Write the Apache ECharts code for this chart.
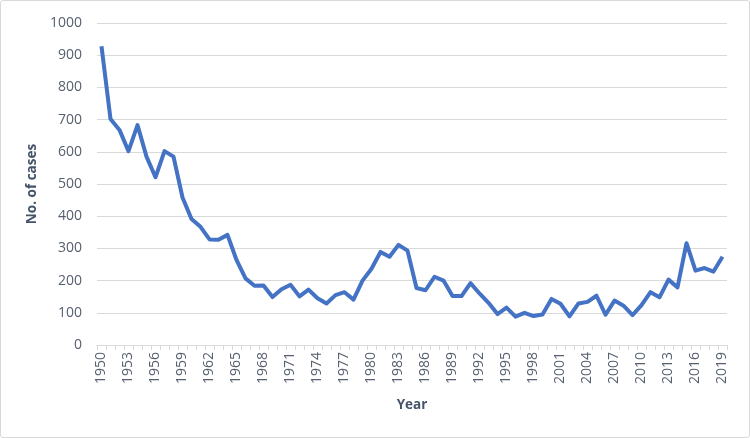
<!doctype html>
<html lang="en">
<head>
    <meta charset="UTF-8">
    <title>No. of cases by year</title>
    <script src="https://cdn.jsdelivr.net/npm/echarts@6/dist/echarts.min.js"></script>
    <style>
        html, body {
            margin: 0;
            padding: 0;
            background: #fff;
        }
        .chart {
            width: 750px;
            height: 438px;
            box-sizing: border-box;
            border: 1px solid #D9D9D9;
            border-radius: 3px;
        }
    </style>
</head>
<body>
<div id="chart" class="chart"></div>
<script>
    // years 1950 - 2019
    const years = [];
    for (let y = 1950; y <= 2019; y++) {
        years.push(String(y));
    }

    // values
    const cases = [
        928, 702, 668, 602, 683, 585, 521, 602, 585, 458,
        391, 367, 328, 327, 342, 264, 207, 184, 185, 149,
        173, 187, 151, 172, 145, 129, 155, 164, 141, 200,
        237, 289, 274, 311, 293, 177, 170, 212, 200, 152,
        152, 192, 160, 131, 96, 116, 88, 100, 90, 95,
        143, 128, 89, 129, 134, 153, 94, 138, 122, 93,
        124, 164, 148, 203, 179, 316, 231, 239, 228, 274
    ];

    const yTicks = { min: 0, max: 1000, interval: 100 };

    const labelColor = '#56606F';
    const nameColor = '#44546A';
    const lineGrey = '#D9D9D9';
    const fontName = 'Open Sans';

    const myChart = echarts.init(document.getElementById('chart'));
    const option = {
        animation: false,
        grid: {
            left: 96,
            right: 22,
            top: 22,
            bottom: 92
        },
        xAxis: {
            type: 'category',
            data: years,
            boundaryGap: true,
            name: 'Year',
            nameLocation: 'middle',
            nameGap: 53,
            nameTextStyle: {
                color: nameColor,
                fontFamily: fontName,
                fontSize: 13.5,
                fontWeight: 'bold'
            },
            axisLine: { lineStyle: { color: lineGrey, width: 1 } },
            axisTick: {
                show: true,
                interval: 0,
                length: 5,
                lineStyle: { color: lineGrey }
            },
            axisLabel: {
                interval: 2,
                rotate: 90,
                margin: 7,
                color: labelColor,
                fontFamily: fontName,
                fontSize: 14
            },
            splitLine: { show: false }
        },
        yAxis: {
            type: 'value',
            min: yTicks.min,
            max: yTicks.max,
            interval: yTicks.interval,
            name: 'No. of cases',
            nameLocation: 'middle',
            nameGap: 57,
            nameTextStyle: {
                color: nameColor,
                fontFamily: fontName,
                fontSize: 13.5,
                fontWeight: 'bold'
            },
            axisLine: { show: false },
            axisTick: { show: false },
            axisLabel: {
                margin: 15,
                color: labelColor,
                fontFamily: fontName,
                fontSize: 14,
                formatter: (value) => String(value)
            },
            splitLine: { lineStyle: { color: lineGrey, width: 1 } }
        },
        series: [
            {
                name: 'No. of cases',
                type: 'line',
                data: cases,
                showSymbol: false,
                symbol: 'none',
                lineStyle: { color: '#4472C4', width: 4, join: 'round' },
                itemStyle: { color: '#4472C4' }
            }
        ]
    };

    myChart.setOption(option);
</script>
</body>
</html>
